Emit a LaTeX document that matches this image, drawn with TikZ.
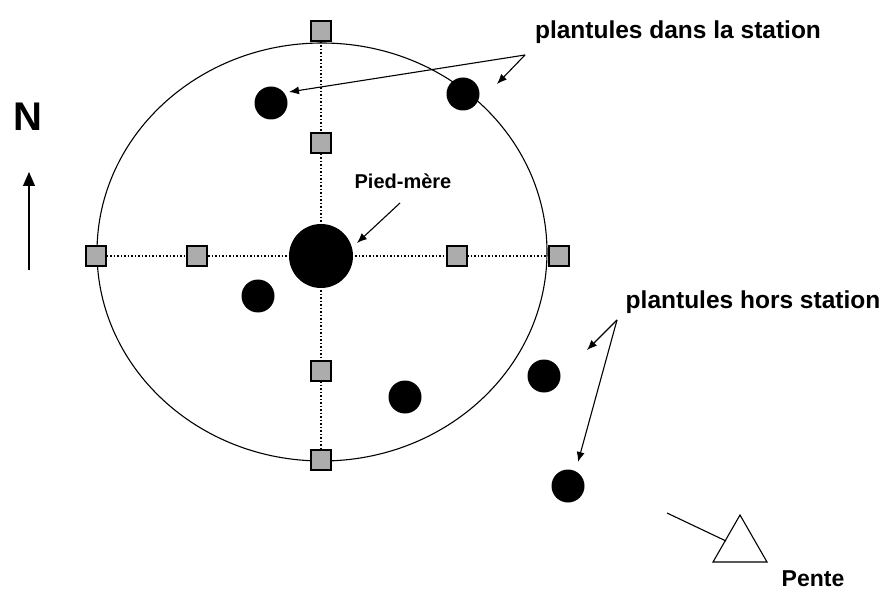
\documentclass[tikz,border=0pt]{standalone}
\usepackage{fontspec}
\setmainfont{Liberation Sans}
\usetikzlibrary{arrows.meta,backgrounds}

\begin{document}
\begin{tikzpicture}[x=1pt, y=-1pt, >={Latex[length=10pt,width=8pt]},
  line width=1.1pt,
  borne/.style={draw, line width=1.4pt, fill=gray!65, minimum size=20pt, inner sep=0pt},
  plantule/.style={circle, fill=black, minimum size=33pt, inner sep=0pt},
  lbl/.style={font=\bfseries\fontsize{24.5}{28}\selectfont, inner sep=0pt}]
 \useasboundingbox (0,0) rectangle (885,593);
 % station
 \draw (322,252) ellipse [x radius=225, y radius=209];
 \node [plantule, minimum size=64pt] (mere) at (321,256) {};
 \node [borne] (n2) at (321,31)  {};
 \node [borne] (n1) at (321,143) {};
 \node [borne] (s1) at (321,371) {};
 \node [borne] (s2) at (321,460) {};
 \node [borne] (w2) at (96,256)  {};
 \node [borne] (w1) at (197,256) {};
 \node [borne] (e1) at (457,256) {};
 \node [borne] (e2) at (559,256) {};
 \begin{scope}[on background layer]
  \draw[dotted, line width=1.5pt] (w2) -- (e2) (n2) -- (s2);
 \end{scope}
 % plantules
 \node [plantule] (p1) at (271,103) {};
 \node [plantule] (p2) at (463,94)  {};
 \node [plantule] (p3) at (258,296) {};
 \node [plantule] (p4) at (405,397) {};
 \node [plantule] (h1) at (544,376) {};
 \node [plantule] (h2) at (568,486) {};
 % legendes
 \node [lbl] (dans) at (678,32) {plantules dans la station};
 \node [lbl] (hors) at (753,302) {plantules hors station};
 \node [lbl, font=\bfseries\fontsize{20}{24}\selectfont] (pied) at (403,181) {Pied-mère};
 \node [lbl, font=\bfseries\fontsize{23}{26}\selectfont] (pente) at (813,579) {Pente};
 \node [font=\bfseries\fontsize{40}{44}\selectfont, inner sep=0pt] (nord) at (28,117) {N};
 \coordinate (cd) at (525,55);
 \coordinate (ch) at (617,320);
 \path[->] (cd) edge (289,92)
           (cd) edge (497,84)
           (ch) edge (587,350)
           (ch) edge (578,462)
           (400,203) edge (357,243);
 % nord et pente
 \draw[-{Triangle[length=14pt,width=12pt]}] (29,270) -- (29,172);
 \draw (740,515) -- (767,562) -- (713,562) -- cycle;
 \draw (667,513) -- (726,541);
\end{tikzpicture}
\end{document}
